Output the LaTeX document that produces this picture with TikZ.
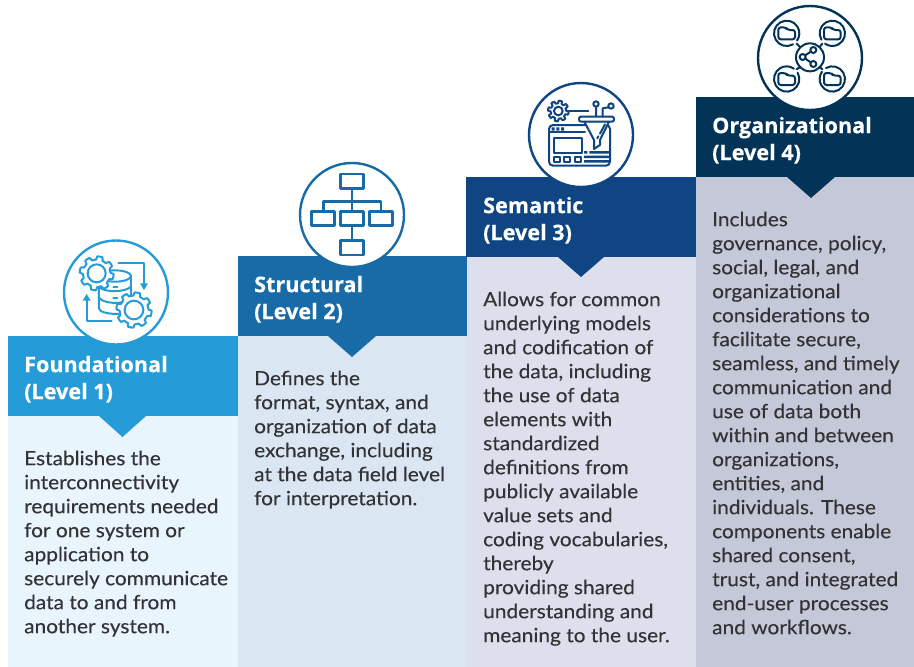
\documentclass[tikz,border=0pt]{standalone}
\usepackage{fontspec}
\setmainfont[FakeStretch=1.065,FakeBold=0.25,BoldFont={Open Sans Bold},BoldFeatures={FakeStretch=1.0}]{Lato}
\definecolor{hA}{HTML}{259CD8}\definecolor{pA}{HTML}{E8F5FC}
\definecolor{hB}{HTML}{196BA8}\definecolor{pB}{HTML}{DAE7F2}
\definecolor{hC}{HTML}{0E4582}\definecolor{pC}{HTML}{DDDFEC}
\definecolor{hD}{HTML}{033357}\definecolor{pD}{HTML}{C5C8D8}
\definecolor{bodytxt}{HTML}{333336}
\newcommand\firstline{\rule{0pt}{20pt}}
\newcommand\gearshape[5]{% cx cy mid amp teeth
  plot[domain=0:360,samples=241,variable=\t]
  ({#1+(#3+#4*max(-1,min(1,3*sin(#5*\t))))*cos(\t)},{#2+(#3+#4*max(-1,min(1,3*sin(#5*\t))))*sin(\t)}) -- cycle}
\tikzset{
  headtxt/.style={anchor=north west,inner sep=0pt,align=left,text=white,font=\fontsize{21.6}{27}\selectfont\bfseries},
  bodyblock/.style={anchor=north west,inner sep=0pt,align=left,text=bodytxt,font=\fontsize{19.6}{24}\selectfont},
  badge/.style={circle,fill=white,draw=#1,line width=2.4pt,minimum size=104pt,inner sep=0pt},
  ico/.style={line width=2pt,draw=#1,line join=round,line cap=round},
}
\begin{document}
\begin{tikzpicture}[x=1pt,y=-1pt]
\useasboundingbox (0,0) rectangle (914,667);
% panels
\fill[pA] (8,416) rectangle (238,667);
\fill[pB] (238,336) rectangle (467,667);
\fill[pC] (466,257) rectangle (696,667);
\fill[pD] (696,177) rectangle (914,667);
% headers
\fill[hA] (8,336) rectangle (238,416);
\fill[hA] (99,416) -- (146,416) -- (122.5,437) -- cycle;
\fill[hB] (238,256) rectangle (467,336);
\fill[hB] (328,336) -- (376,336) -- (352,357) -- cycle;
\fill[hC] (466,177) rectangle (696,257);
\fill[hC] (558,257) -- (604,257) -- (581,277) -- cycle;
\fill[hD] (696,97) rectangle (914,177);
\fill[hD] (787,177) -- (835,177) -- (811,198) -- cycle;
% badges
\node[badge=hA] (badgeA) at (116,292.5) {};
\node[badge=hB] (badgeB) at (352,215) {};
\node[badge=hC] (badgeC) at (581,135) {};
\node[badge=hD] (badgeD) at (810,58) {};
% icon 1
\begin{scope}[x=.33333pt,y=-.33333pt,shift={(40pt,-230pt)},ico=hA]
 \draw (225,138) ellipse (48 and 17);
 \draw (177,138) -- (177,235) .. controls (177,245) and (200,252) .. (235,252);
 \draw (273,138) -- (273,195);
 \draw (177,170) .. controls (190,188) and (255,188) .. (273,170);
 \draw (177,203) .. controls (190,220) and (235,222) .. (250,215);
 \draw (220,172) -- (232,172) (220,203) -- (232,203);
 \draw[fill=white] \gearshape{170}{130}{46}{5}{8};
 \draw (170,130) circle (27);
 \draw[fill=white] \gearshape{282}{240}{48}{5}{8};
 \draw (282,240) circle (28);
 \draw (235,100) -- (312,100) -- (312,172);
 \fill[hA] (300,160) -- (324,160) -- (312,180) -- cycle;
 \draw (215,272) -- (140,272) -- (140,205);
 \fill[hA] (128,212) -- (152,212) -- (140,192) -- cycle;
\end{scope}
% icon 2
\begin{scope}[x=.33333pt,y=-.33333pt,shift={(280pt,-155pt)},ico=hB,line width=2.5pt]
 \draw (182,57) rectangle (250,100);
 \draw (95,170) rectangle (163,212);
 \draw (182,170) rectangle (250,212);
 \draw (268,170) rectangle (338,212);
 \draw (182,257) rectangle (250,300);
 \draw (216,100) -- (216,170) (216,212) -- (216,257);
 \draw (130,170) -- (130,140) -- (303,140) -- (303,170);
\end{scope}
% icon 3
\begin{scope}[x=.33333pt,y=-.33333pt,shift={(510pt,-75pt)},ico=hC]
 \draw[rounded corners=4pt] (117,150) rectangle (300,272);
 \draw (117,172) -- (225,172);
 \fill[hC] (125,157) rectangle (134,167) (139,157) rectangle (148,167) (153,157) rectangle (162,167);
 \draw (132,190) rectangle (215,235);
 \draw (132,245) rectangle (150,262) (162,245) rectangle (180,262) (195,245) rectangle (213,262);
 \fill[hC] (222,228) rectangle (232,236) (238,228) rectangle (300,236);
 \fill[hC] (222,242) rectangle (300,249) (222,255) rectangle (300,263);
 \draw[fill=white] \gearshape{145}{108}{27}{4}{8};
 \draw (145,108) circle (13);
 \draw (178,108) -- (235,108);
 \draw[fill=white] (222,138) -- (252,195) -- (252,222) -- (270,210) -- (270,195) -- (298,138) -- cycle;
 \draw[fill=white,rounded corners=2pt] (207,125) rectangle (312,140);
 \draw (285,148) -- (270,176) (265,184) -- (262,190);
 \draw (258,95) -- (258,125) (278,125) -- (278,100) -- (295,97);
 \draw (258,87) circle (8) (303,93) circle (8);
\end{scope}
% icon 4
\begin{scope}[x=.33333pt,y=-.33333pt,shift={(740pt,0pt)},ico=hD]
 \draw (210,172) circle (42);
 \draw (220,150) -- (188,171) -- (220,192);
 \draw[fill=white] (220,150) circle (9) (188,171) circle (9) (220,192) circle (9);
 \foreach \cx/\cy/\st in {140/100/60,277/100/150,140/237/-30,277/237/240}{
   \draw (\cx,\cy) ++ (\st:38) arc[start angle=\st,end angle=\st+335,radius=38];
   \draw[rounded corners=2.5pt] (\cx-25,\cy-18) -- (\cx-3,\cy-18) -- (\cx+3,\cy-10) -- (\cx+25,\cy-10) -- (\cx+25,\cy+18) -- (\cx-25,\cy+18) -- cycle;
 }
 \draw (170,131) -- (181,142) (247,131) -- (238,142) (170,208) -- (181,200) (247,208) -- (238,200);
\end{scope}
% text
\node[headtxt] (headA) at (24,352) {\firstline Foundational\\(Level 1)};
\node[headtxt] (headB) at (254,272) {\firstline Structural\\(Level 2)};
\node[headtxt] (headC) at (483,193) {\firstline Semantic\\(Level 3)};
\node[headtxt] (headD) at (712,113) {\firstline Organizational\\(Level 4)};
\node[bodyblock] (bodyA) at (24,445) {\firstline Establishes the\\interconnectivity\\requirements needed\\for one system or\\application to\\securely communicate\\data to and from\\another system.};
\node[bodyblock] (bodyB) at (254,365) {\firstline Defines the\\format, syntax, and\\organization of data\\exchange, including\\at the data field level\\for interpretation.};
\node[bodyblock] (bodyC) at (483,286) {\firstline Allows for common\\underlying models\\and codification of\\the data, including\\the use of data\\elements with\\standardized\\definitions from\\publicly available\\value sets and\\coding vocabularies,\\thereby\\providing shared\\understanding and\\meaning to the user.};
\node[bodyblock] (bodyD) at (712,206) {\firstline Includes\\governance, policy,\\social, legal, and\\organizational\\considerations to\\facilitate secure,\\seamless, and timely\\communication and\\use of data both\\within and between\\organizations,\\entities, and\\individuals. These\\components enable\\shared consent,\\trust, and integrated\\end-user processes\\and workflows.};
\end{tikzpicture}
\end{document}
